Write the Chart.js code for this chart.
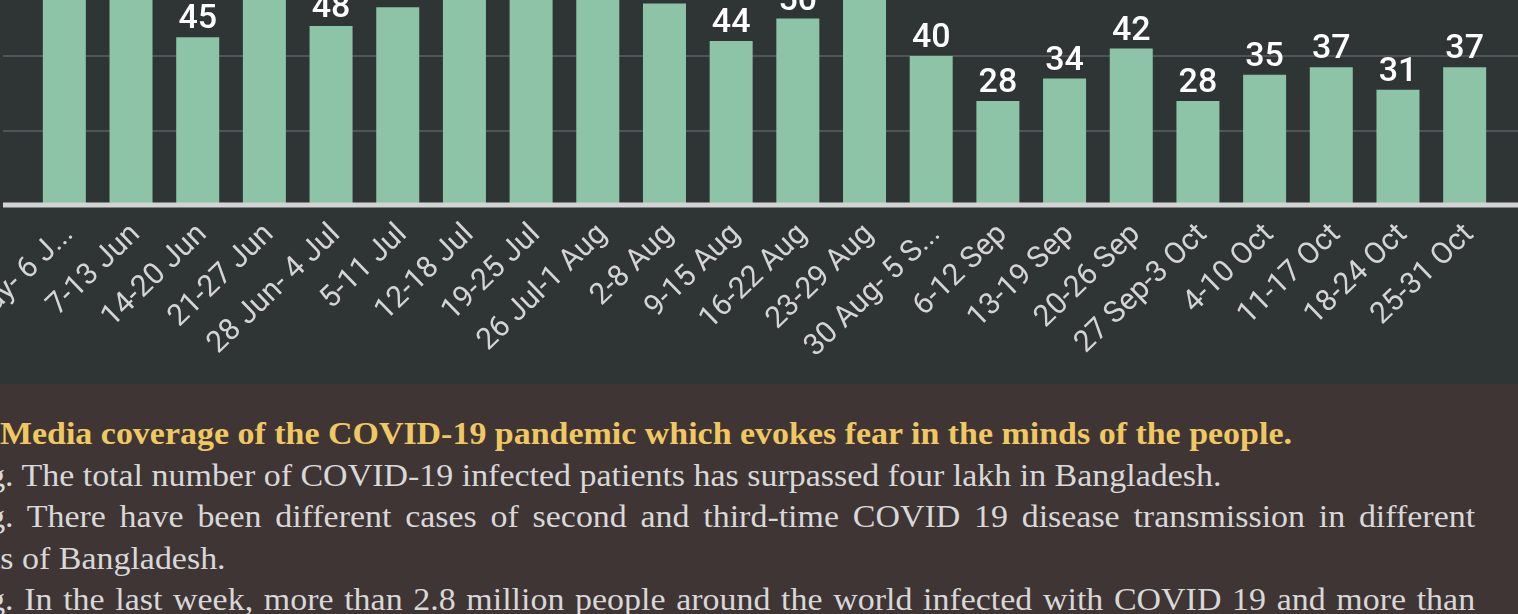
<!DOCTYPE html>
<html>
<head>
<meta charset="utf-8">
<script src="https://cdn.jsdelivr.net/npm/chart.js@4"></script>
<style>
  html, body { margin:0; padding:0; width:1518px; height:614px; overflow:hidden; background:#2f3435; }
  #wrap { position:absolute; left:0; top:-169px; width:1518px; height:545px; }
  #panel { position:absolute; left:0; top:384px; width:1518px; height:230px; background:#403535; overflow:hidden; }
  #notes { position:absolute; left:-94px; top:29px; width:1433px; transform:scaleX(1.095); transform-origin:0 0;
           font-family:"Liberation Serif","Times New Roman",serif; font-size:31px; line-height:41.5px; color:#d8d8d8; }
  #notes p { margin:0; text-align:justify; }
  #notes p.h { font-weight:bold; color:#f0c862; padding-left:85.8px; text-align:left; }
  #notes p.i { text-indent:75px; }
  #notes p.last { text-align-last:justify; }
</style>
</head>
<body>
<div id="wrap"><canvas id="c"></canvas></div>
<div id="panel">
  <div id="notes">
    <p class="h">Media coverage of the COVID-19 pandemic which evokes fear in the minds of the people.</p>
    <p class="i">g. The total number of COVID-19 infected patients has surpassed four lakh in Bangladesh.</p>
    <p class="i">g. There have been different cases of second and third-time COVID 19 disease transmission in different districts of Bangladesh.</p>
    <p class="i last">g. In the last week, more than 2.8 million people around the world infected with COVID 19 and more than</p>
  </div>
</div>
<script>
const weeks = ["31 May- 6 J...", "7-13 Jun", "14-20 Jun", "21-27 Jun", "28 Jun- 4 Jul", "5-11 Jul", "12-18 Jul", "19-25 Jul", "26 Jul-1 Aug", "2-8 Aug", "9-15 Aug", "16-22 Aug", "23-29 Aug", "30 Aug- 5 S...", "6-12 Sep", "13-19 Sep", "20-26 Sep", "27 Sep-3 Oct", "4-10 Oct", "11-17 Oct", "18-24 Oct", "25-31 Oct"];
const newsCount = [60, 58, 45, 57, 48, 53, 62, 66, 64, 54, 44, 50, 58, 40, 28, 34, 42, 28, 35, 37, 31, 37];
const yTicks = [0, 20, 40, 60, 80, 100];

const gridPlugin = {
  id: 'fullGrid',
  beforeDatasetsDraw(chart) {
    const ctx = chart.ctx, y = chart.scales.y;
    ctx.save();
    ctx.strokeStyle = '#4f5556';
    ctx.lineWidth = 2;
    yTicks.slice(1).forEach(v => {
      const py = Math.round(y.getPixelForValue(v));
      ctx.beginPath(); ctx.moveTo(3, py); ctx.lineTo(chart.width, py); ctx.stroke();
    });
    ctx.restore();
  },
  afterDatasetsDraw(chart) {
    const ctx = chart.ctx, y = chart.scales.y;
    ctx.save();
    ctx.strokeStyle = '#d3d3d3';
    ctx.lineWidth = 5;
    const py = y.getPixelForValue(0) - 1;
    ctx.beginPath(); ctx.moveTo(3, py); ctx.lineTo(chart.width, py); ctx.stroke();
    const meta = chart.getDatasetMeta(0);
    ctx.fillStyle = '#ffffff';
    ctx.font = '500 34px Roboto';
    ctx.textAlign = 'center';
    ctx.textBaseline = 'alphabetic';
    meta.data.forEach((bar, i) => {
      ctx.fillText(String(newsCount[i]), bar.x, bar.y - 9);
    });
    ctx.restore();
  }
};

new Chart(document.getElementById('c'), {
  type: 'bar',
  data: {
    labels: weeks,
    datasets: [{ data: newsCount, backgroundColor: '#8dc3a7', borderWidth: 0, categoryPercentage: 1, barPercentage: 0.645 }]
  },
  options: {
    responsive: true,
    maintainAspectRatio: false,
    animation: false,
    layout: { padding: { left: 31, right: 20, top: 0, bottom: 0 } },
    plugins: { legend: { display: false }, tooltip: { enabled: false } },
    scales: {
      x: {
        grid: { display: false, drawTicks: false },
        border: { display: false },
        ticks: {
          autoSkip: false, minRotation: 44, maxRotation: 44, padding: 11, labelOffset: 5,
          color: '#d4d4d4', font: { family: 'Roboto', size: 30 }
        },
        afterFit(s) { s.height = 170; s.paddingLeft = 0; s.paddingRight = 0; }
      },
      y: { display: false, min: 0, max: 100, ticks: { stepSize: 20 } }
    }
  },
  plugins: [gridPlugin]
});
</script>
</body>
</html>
